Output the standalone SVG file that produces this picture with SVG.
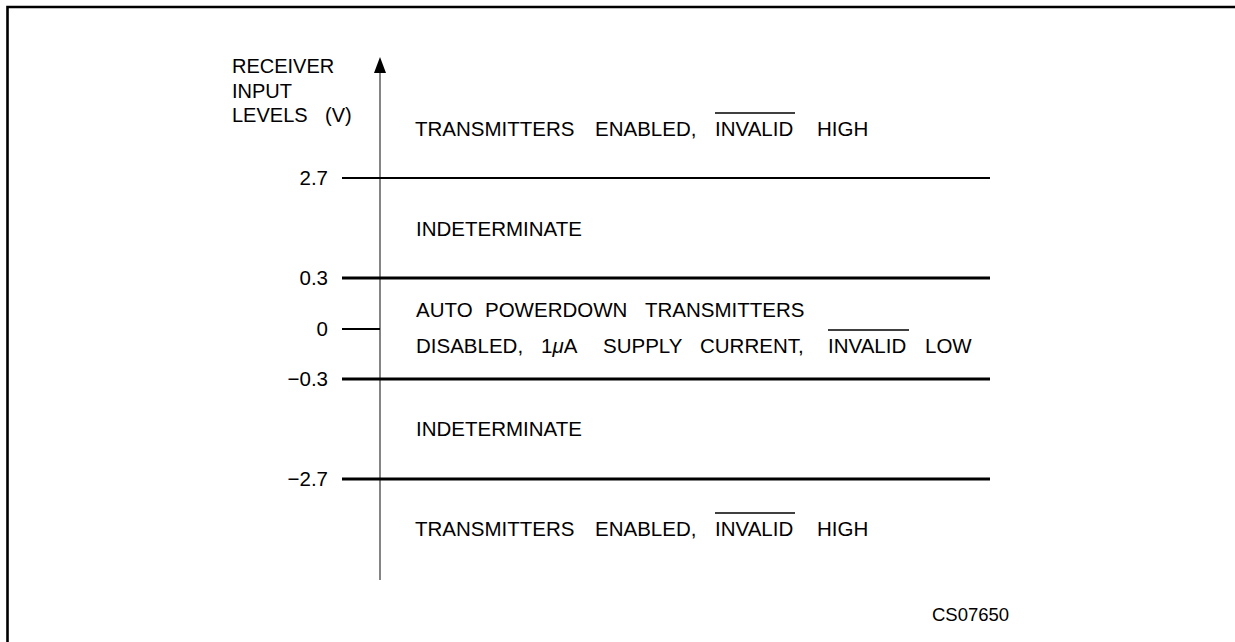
<svg xmlns="http://www.w3.org/2000/svg" width="1235" height="642" viewBox="0 0 1235 642">
<style>
text{font-family:"Liberation Sans",Arial,sans-serif;font-size:20.5px;fill:#000}
.lbl{text-anchor:end}
.thin{stroke:#000;stroke-width:1.8;fill:none}
.thick{stroke:#000;stroke-width:2.8;fill:none}
.ovl{stroke:#000;stroke-width:1.5}
</style>
<rect width="1235" height="642" fill="#fff"/>
<g id="frame">
<polyline points="7.5,645 7.5,7 1240,7" fill="none" stroke="#000" stroke-width="2.6"/>
</g>
<g id="axis">
<line x1="380" y1="70" x2="380" y2="580" stroke="#666" stroke-width="1.6"/>
<polygon points="380,57 374,73 386,73" fill="#000"/>
<text x="232" y="73" style="font-size:20px">RECEIVER</text>
<text x="232" y="98" style="font-size:20px">INPUT</text>
<text x="232" y="122" style="font-size:20px">LEVELS<tspan x="325">(V)</tspan></text>
</g>
<g id="levels">
<line class="thin" x1="342" y1="178" x2="990" y2="178"/>
<line class="thick" x1="342" y1="278" x2="990" y2="278"/>
<line class="thin" x1="342" y1="329" x2="380" y2="329"/>
<line class="thick" x1="342" y1="379" x2="990" y2="379"/>
<line class="thick" x1="342" y1="479" x2="990" y2="479"/>
<text class="lbl" x="328" y="185">2.7</text>
<text class="lbl" x="328" y="285">0.3</text>
<text class="lbl" x="328" y="336">0</text>
<text class="lbl" x="328" y="386">−0.3</text>
<text class="lbl" x="328" y="486">−2.7</text>
</g>
<g id="region-top">
<text y="136"><tspan x="415">TRANSMITTERS</tspan><tspan x="595">ENABLED,</tspan><tspan x="715">INVALID</tspan><tspan x="817">HIGH</tspan></text>
<line class="ovl" x1="715" y1="113" x2="795" y2="113"/>
</g>
<g id="region-indet-1">
<text x="416" y="236">INDETERMINATE</text>
</g>
<g id="region-powerdown">
<text y="317"><tspan x="416">AUTO</tspan><tspan x="485">POWERDOWN</tspan><tspan x="645">TRANSMITTERS</tspan></text>
<text y="353"><tspan x="416">DISABLED,</tspan><tspan x="541">1</tspan><tspan font-style="italic">μ</tspan><tspan>A</tspan><tspan x="603">SUPPLY</tspan><tspan x="700">CURRENT,</tspan><tspan x="828">INVALID</tspan><tspan x="925">LOW</tspan></text>
<line class="ovl" x1="828" y1="330" x2="909" y2="330"/>
</g>
<g id="region-indet-2">
<text x="416" y="436">INDETERMINATE</text>
</g>
<g id="region-bottom">
<text y="536"><tspan x="415">TRANSMITTERS</tspan><tspan x="595">ENABLED,</tspan><tspan x="715">INVALID</tspan><tspan x="817">HIGH</tspan></text>
<line class="ovl" x1="715" y1="513" x2="795" y2="513"/>
</g>
<text x="932" y="621" style="font-size:18.5px">CS07650</text>
</svg>
